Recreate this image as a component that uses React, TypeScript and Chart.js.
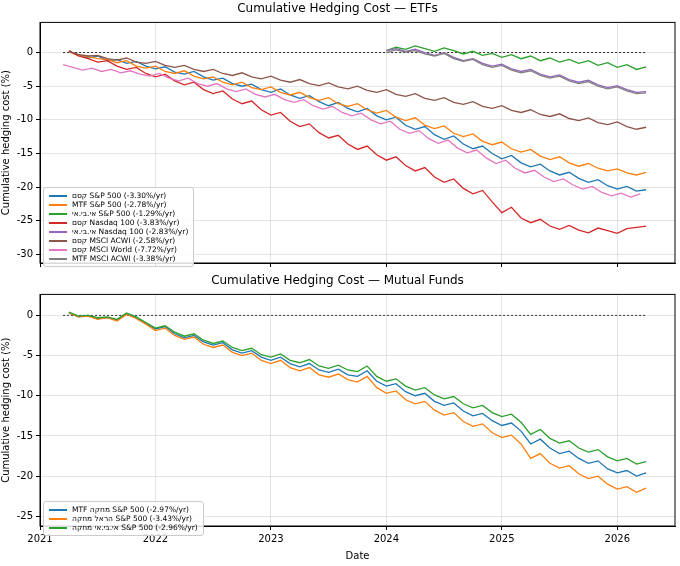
import React, { useEffect, useRef } from "react";
import { Chart, registerables } from "chart.js";
Chart.register(...registerables);

const FONT = "'DejaVu Sans', sans-serif";
const START_FULL = 2021.25;
const START_LATE = 2024.0;
const STEP = 1 / 12;
const xTicks = [2021, 2022, 2023, 2024, 2025, 2026];

const kesemSP = [0.2,-0.3,-0.8,-0.5,-1.2,-1.0,-1.6,-1.3,-2.0,-2.4,-2.1,-2.9,-3.2,-2.8,-3.6,-4.1,-3.8,-4.6,-5.0,-4.7,-5.5,-5.9,-5.4,-6.3,-6.8,-6.4,-7.3,-7.9,-7.4,-8.3,-8.8,-8.3,-9.4,-10.0,-9.6,-10.8,-11.4,-11.0,-12.2,-12.9,-12.4,-13.6,-14.3,-13.9,-15.0,-15.8,-15.3,-16.4,-17.0,-16.6,-17.6,-18.2,-17.8,-18.7,-19.3,-18.9,-19.8,-20.3,-19.9,-20.6,-20.4];
const mtfSP = [0.1,-0.4,-0.6,-0.9,-1.0,-1.5,-1.2,-2.0,-2.3,-2.0,-2.8,-3.1,-2.7,-3.5,-3.9,-3.6,-4.4,-4.8,-4.4,-5.2,-5.5,-5.1,-5.9,-6.3,-5.9,-6.7,-7.1,-6.7,-7.6,-8.0,-7.6,-8.5,-9.0,-8.6,-9.6,-10.1,-9.7,-10.8,-11.3,-10.9,-12.0,-12.5,-12.1,-13.2,-13.7,-13.3,-14.3,-14.8,-14.4,-15.4,-15.9,-15.5,-16.4,-16.9,-16.5,-17.2,-17.6,-17.3,-17.9,-18.2,-17.8];
const ibiSP = [0.3,0.8,0.5,1.0,0.6,0.2,0.7,0.3,-0.2,0.2,-0.4,-0.1,-0.7,-0.3,-0.9,-0.5,-1.2,-0.8,-1.4,-1.0,-1.6,-1.2,-1.9,-1.5,-2.2,-1.8,-2.5,-2.1];
const kesemNdx = [0.3,-0.5,-0.9,-1.4,-1.2,-2.0,-2.5,-2.2,-3.1,-3.6,-3.2,-4.2,-4.8,-4.4,-5.5,-6.1,-5.7,-6.9,-7.6,-7.2,-8.5,-9.3,-8.9,-10.2,-11.0,-10.6,-11.9,-12.7,-12.3,-13.6,-14.4,-13.9,-15.2,-16.0,-15.5,-16.8,-17.6,-17.1,-18.5,-19.3,-18.8,-20.2,-21.0,-20.5,-22.2,-23.8,-23.0,-24.6,-25.3,-24.8,-25.8,-26.3,-25.7,-26.4,-26.8,-26.1,-26.5,-26.9,-26.2,-26.0,-25.8];
const ibiNdx = [0.3,0.6,0.2,0.5,0.0,-0.4,0.0,-0.7,-1.2,-0.9,-1.6,-2.0,-1.7,-2.4,-2.8,-2.5,-3.2,-3.6,-3.3,-4.0,-4.4,-4.1,-4.8,-5.2,-4.9,-5.5,-5.9,-5.8];
const kesemAcwi = [0.2,-0.3,-0.5,-0.4,-0.9,-1.1,-0.8,-1.4,-1.6,-1.3,-1.9,-2.2,-1.9,-2.5,-2.8,-2.5,-3.1,-3.4,-3.0,-3.6,-3.9,-3.5,-4.1,-4.4,-4.0,-4.6,-4.9,-4.5,-5.1,-5.4,-5.0,-5.6,-5.9,-5.5,-6.2,-6.5,-6.1,-6.8,-7.1,-6.7,-7.4,-7.7,-7.3,-8.0,-8.3,-7.9,-8.6,-8.9,-8.5,-9.2,-9.5,-9.1,-9.8,-10.1,-9.7,-10.4,-10.7,-10.3,-11.0,-11.4,-11.1];
const kesemWorld = [-1.8,-2.2,-2.6,-2.3,-2.8,-2.5,-3.0,-2.7,-3.2,-3.5,-3.1,-3.8,-4.2,-3.8,-4.6,-5.0,-4.6,-5.4,-5.8,-5.4,-6.2,-6.6,-6.2,-7.0,-7.4,-7.0,-7.9,-8.4,-8.0,-8.9,-9.4,-9.0,-10.0,-10.6,-10.2,-11.4,-12.0,-11.6,-12.8,-13.5,-13.0,-14.2,-14.9,-14.5,-15.7,-16.5,-16.0,-17.2,-17.9,-17.5,-18.5,-19.2,-18.8,-19.7,-20.3,-19.9,-20.8,-21.3,-20.9,-21.5,-21.0];
const mtfAcwi = [0.0,0.4,0.1,0.3,-0.2,-0.5,-0.1,-0.9,-1.3,-1.0,-1.8,-2.2,-1.9,-2.6,-3.0,-2.7,-3.4,-3.8,-3.5,-4.2,-4.6,-4.3,-5.0,-5.4,-5.1,-5.7,-6.1,-6.0];

const mfMtf = [0.3,-0.2,0.0,-0.4,-0.3,-0.6,0.2,-0.3,-1.0,-1.7,-1.4,-2.3,-2.8,-2.5,-3.3,-3.7,-3.4,-4.3,-4.7,-4.4,-5.2,-5.6,-5.2,-6.0,-6.4,-6.0,-6.8,-7.1,-6.7,-7.4,-7.6,-6.9,-8.2,-8.8,-8.5,-9.5,-10.0,-9.7,-10.7,-11.2,-10.9,-11.9,-12.5,-12.2,-13.1,-13.7,-13.4,-14.4,-16.0,-15.4,-16.5,-17.2,-16.9,-17.8,-18.4,-18.1,-19.1,-19.6,-19.3,-20.0,-19.6];
const mfHarel = [0.3,-0.2,-0.1,-0.5,-0.3,-0.7,0.1,-0.4,-1.1,-1.9,-1.6,-2.5,-3.0,-2.7,-3.6,-4.0,-3.7,-4.6,-5.0,-4.7,-5.6,-6.0,-5.6,-6.5,-6.9,-6.5,-7.4,-7.7,-7.3,-8.0,-8.3,-7.6,-9.0,-9.7,-9.4,-10.5,-11.0,-10.7,-11.8,-12.4,-12.1,-13.2,-13.8,-13.5,-14.6,-15.2,-14.9,-16.0,-17.8,-17.2,-18.4,-19.0,-18.7,-19.7,-20.3,-20.0,-21.0,-21.6,-21.3,-22.0,-21.5];
const mfIbi = [0.4,-0.1,0.0,-0.3,-0.2,-0.5,0.3,-0.2,-0.9,-1.6,-1.3,-2.1,-2.6,-2.3,-3.1,-3.5,-3.2,-4.0,-4.4,-4.1,-4.9,-5.2,-4.8,-5.6,-5.9,-5.5,-6.3,-6.6,-6.2,-6.8,-7.0,-6.3,-7.6,-8.2,-7.9,-8.8,-9.3,-9.0,-9.9,-10.4,-10.1,-11.0,-11.5,-11.2,-12.1,-12.6,-12.3,-13.3,-14.8,-14.2,-15.3,-15.9,-15.6,-16.5,-17.0,-16.7,-17.6,-18.1,-17.8,-18.5,-18.2];

const etfSeries = [
  { label: "קסם S&P 500 (-3.30%/yr)", color: "#1f77b4", start: START_FULL, values: kesemSP },
  { label: "MTF S&P 500 (-2.78%/yr)", color: "#ff7f0e", start: START_FULL, values: mtfSP },
  { label: "אי.בי.אי S&P 500 (-1.29%/yr)", color: "#2ca02c", start: START_LATE, values: ibiSP },
  { label: "קסם Nasdaq 100 (-3.83%/yr)", color: "#d62728", start: START_FULL, values: kesemNdx },
  { label: "אי.בי.אי Nasdaq 100 (-2.83%/yr)", color: "#9467bd", start: START_LATE, values: ibiNdx },
  { label: "קסם MSCI ACWI (-2.58%/yr)", color: "#8c564b", start: START_FULL, values: kesemAcwi },
  { label: "קסם MSCI World (-7.72%/yr)", color: "#e377c2", start: 2021.2, values: kesemWorld },
  { label: "MTF MSCI ACWI (-3.38%/yr)", color: "#7f7f7f", start: START_LATE, values: mtfAcwi },
];
const mfSeries = [
  { label: "MTF מחקה S&P 500 (-2.97%/yr)", color: "#1f77b4", start: START_FULL, values: mfMtf },
  { label: "הראל מחקה S&P 500 (-3.43%/yr)", color: "#ff7f0e", start: START_FULL, values: mfHarel },
  { label: "אי.בי.אי מחקה S&P 500 (-2.96%/yr)", color: "#2ca02c", start: START_FULL, values: mfIbi },
];

type S = typeof etfSeries;

const frame = {
  id: "frame",
  afterDraw(chart: any) {
    const { ctx, chartArea: a } = chart;
    ctx.save();
    ctx.strokeStyle = "#000";
    ctx.lineWidth = 1;
    ctx.strokeRect(a.left, a.top, a.right - a.left, a.bottom - a.top);
    ctx.restore();
  },
};

function makeChart(canvas: HTMLCanvasElement, series: S, title: string, yMin: number, yMax: number, yStep: number, showX: boolean) {
  const n = series.length;
  const datasets: any[] = series.map((s, i) => ({
    label: s.label,
    data: s.values.map((v, j) => ({ x: s.start + j * STEP, y: v })),
    borderColor: s.color,
    backgroundColor: s.color,
    borderWidth: 1.3,
    pointRadius: 0,
    tension: 0,
    order: n - i + 1,
  }));
  datasets.push({
    label: "zero",
    data: [{ x: 2021.2, y: 0 }, { x: 2026.25, y: 0 }],
    borderColor: "#000",
    borderWidth: 0.8,
    borderDash: [2, 2],
    pointRadius: 0,
    order: 100,
  });
  const tickFont = { family: FONT, size: 10 };
  return new Chart(canvas, {
    type: "line",
    data: { datasets },
    plugins: [frame],
    options: {
      animation: false,
      responsive: false,
      layout: { padding: { left: 0, right: 5, top: 0, bottom: showX ? 0 : 4 } },
      plugins: {
        legend: { display: false },
        tooltip: { enabled: false },
        title: { display: true, text: title, color: "#000", font: { family: FONT, size: 12, weight: "normal" }, padding: { top: 2, bottom: 6 } },
      },
      scales: {
        x: {
          type: "linear",
          min: 2021,
          max: 2026.5,
          afterBuildTicks: (ax: any) => { ax.ticks = xTicks.map((v) => ({ value: v })); },
          ticks: { display: showX, color: "#000", font: tickFont, callback: (v: any) => String(v), maxRotation: 0 },
          grid: { color: "rgba(0,0,0,0.1)", tickColor: "#000", tickLength: 4 },
          border: { color: "#000" },
          title: { display: showX, text: "Date", color: "#000", font: { family: FONT, size: 10 }, padding: { top: 2 } },
        },
        y: {
          min: yMin,
          max: yMax,
          afterBuildTicks: (ax: any) => {
            const t = [];
            for (let v = Math.ceil(yMin / yStep) * yStep; v <= yMax; v += yStep) t.push({ value: v });
            ax.ticks = t;
          },
          afterFit: (ax: any) => { ax.width = 40; },
          ticks: { color: "#000", font: tickFont },
          grid: { color: "rgba(0,0,0,0.1)", tickColor: "#000", tickLength: 4 },
          border: { color: "#000" },
          title: { display: true, text: "Cumulative hedging cost (%)", color: "#000", font: { family: FONT, size: 10 }, padding: 0 },
        },
      },
    },
  } as any);
}

function Legend({ series, left, top }: { series: S; left: number; top: number }) {
  return (
    <div style={{ position: "absolute", left, top, background: "rgba(255,255,255,0.85)", border: "1px solid #ccc", borderRadius: 3, padding: "3px 5px", fontFamily: FONT, fontSize: 7.5, lineHeight: "9px" }}>
      {series.map((s) => (
        <div key={s.label} style={{ display: "flex", alignItems: "center", gap: 5 }}>
          <span style={{ width: 18, minWidth: 18, height: 2, flexShrink: 0, backgroundColor: s.color, display: "block" }} />
          <span style={{ whiteSpace: "nowrap" }}>{s.label}</span>
        </div>
      ))}
    </div>
  );
}

export default function App() {
  const topRef = useRef<HTMLCanvasElement>(null);
  const botRef = useRef<HTMLCanvasElement>(null);
  useEffect(() => {
    document.body.style.margin = "0";
    const a = makeChart(topRef.current!, etfSeries, "Cumulative Hedging Cost — ETFs", -31.3, 4.5, 5, false);
    const b = makeChart(botRef.current!, mfSeries, "Cumulative Hedging Cost — Mutual Funds", -26.2, 2.6, 5, true);
    return () => { a.destroy(); b.destroy(); };
  }, []);
  return (
    <div style={{ position: "relative", width: 680, height: 566, background: "#fff" }}>
      <canvas ref={topRef} width={680} height={272} style={{ position: "absolute", left: 0, top: 0 }} />
      <canvas ref={botRef} width={680} height={294} style={{ position: "absolute", left: 0, top: 272 }} />
      <Legend series={etfSeries} left={43} top={187} />
      <Legend series={mfSeries} left={43} top={501} />
    </div>
  );
}
